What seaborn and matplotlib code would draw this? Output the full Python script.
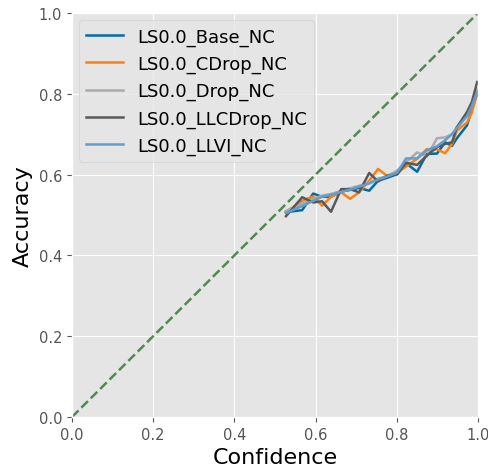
import numpy as np
import pandas as pd
import matplotlib
matplotlib.use('Agg')
import matplotlib.pyplot as plt
import seaborn as sns

# mean confidence per bin (shared across models)
confidence = [0.527, 0.567, 0.594, 0.616, 0.638, 0.663, 0.685, 0.707, 0.732, 0.754, 0.776,
              0.801, 0.823, 0.850, 0.874, 0.899, 0.919, 0.936, 0.948, 0.973, 0.985, 0.998]

acc_base = [0.507, 0.512, 0.553, 0.545, 0.545, 0.558, 0.562, 0.567, 0.560, 0.585, 0.592,
            0.601, 0.628, 0.607, 0.651, 0.652, 0.680, 0.671, 0.690, 0.722, 0.762, 0.800]
acc_cdrop = [0.507, 0.535, 0.546, 0.523, 0.545, 0.556, 0.540, 0.556, 0.585, 0.614, 0.597,
             0.605, 0.620, 0.639, 0.663, 0.662, 0.653, 0.676, 0.709, 0.729, 0.754, 0.804]
acc_drop = [0.510, 0.528, 0.540, 0.548, 0.552, 0.560, 0.566, 0.572, 0.580, 0.590, 0.596,
            0.610, 0.630, 0.655, 0.645, 0.690, 0.692, 0.700, 0.718, 0.748, 0.772, 0.810]
acc_llcdrop = [0.497, 0.544, 0.531, 0.534, 0.508, 0.564, 0.564, 0.556, 0.604, 0.583, 0.597,
               0.601, 0.629, 0.624, 0.647, 0.668, 0.676, 0.680, 0.717, 0.755, 0.780, 0.829]
acc_llvi = [0.505, 0.522, 0.535, 0.545, 0.550, 0.557, 0.563, 0.570, 0.578, 0.588, 0.595,
            0.605, 0.640, 0.640, 0.660, 0.670, 0.685, 0.700, 0.715, 0.745, 0.770, 0.805]

models = ['LS0.0_Base_NC', 'LS0.0_CDrop_NC', 'LS0.0_Drop_NC', 'LS0.0_LLCDrop_NC', 'LS0.0_LLVI_NC']
accs = [acc_base, acc_cdrop, acc_drop, acc_llcdrop, acc_llvi]
colors = ['#006BA4', '#FF800E', '#ABABAB', '#595959', '#5F9ED1']

rows = []
for m, a in zip(models, accs):
    for c, v in zip(confidence, a):
        rows.append({'Confidence': c, 'Accuracy': v, 'model': m})
df = pd.DataFrame(rows)

plt.style.use('ggplot')
fig = plt.figure(figsize=(4.88, 4.77), dpi=100)
ax = fig.add_axes([0.1475, 0.1237, 0.832, 0.847])

sns.lineplot(data=df, x='Confidence', y='Accuracy', hue='model', hue_order=models,
             palette=colors, linewidth=1.8, ax=ax, sort=False)
ax.plot([0, 1], [0, 1], '--', color='#508A50', linewidth=1.8, zorder=1)

ax.set_xlim(0, 1)
ax.set_ylim(0, 1)
ax.set_xticks(np.arange(0, 1.01, 0.2))
ax.set_yticks(np.arange(0, 1.01, 0.2))
ax.tick_params(labelsize=10.5, colors='#555555')
ax.set_xlabel('Confidence', fontsize=16, color='black')
ax.set_ylabel('Accuracy', fontsize=16, color='black')
ax.legend(loc='upper left', fontsize=13, facecolor='#E5E5E5', framealpha=0.8,
          edgecolor='#CCCCCC', handlelength=2.0, borderaxespad=0.4)

plt.savefig('out.png', dpi=100)
